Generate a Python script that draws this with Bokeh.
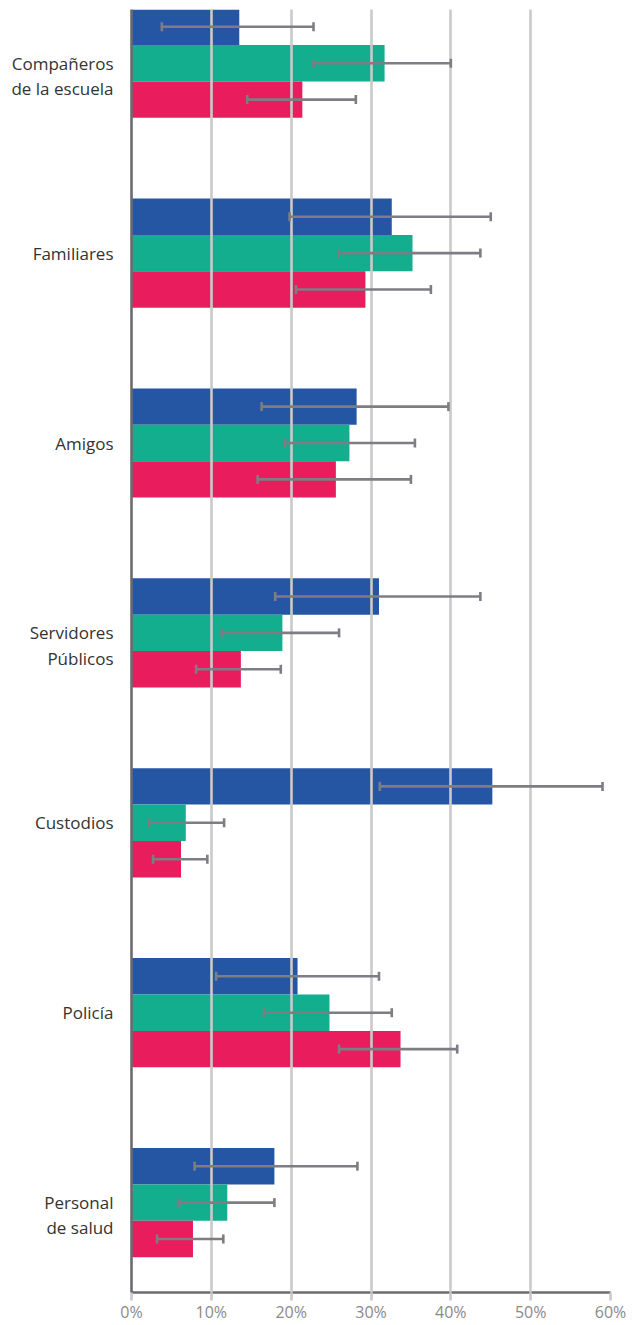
from bokeh.plotting import figure
from bokeh.models import (ColumnDataSource, Range1d, FixedTicker, Whisker, TeeHead)
from bokeh.embed import file_html
from bokeh.resources import INLINE

# ---------------- data ----------------
categories = ["Compañeros\nde la escuela", "Familiares", "Amigos",
              "Servidores\nPúblicos", "Custodios", "Policía", "Personal\nde salud"]

blue = [13.5, 32.6, 28.2, 31.0, 45.2, 20.8, 17.9]
blue_lo = [3.8, 19.8, 16.3, 18.0, 31.1, 10.6, 7.9]
blue_hi = [22.8, 45.0, 39.7, 43.7, 59.0, 31.0, 28.3]

green = [31.7, 35.2, 27.3, 18.9, 6.8, 24.8, 12.0]
green_lo = [22.8, 25.9, 19.2, 11.3, 2.2, 16.6, 6.0]
green_hi = [40.0, 43.7, 35.5, 26.0, 11.6, 32.6, 17.9]

pink = [21.4, 29.3, 25.6, 13.7, 6.2, 33.7, 7.7]
pink_lo = [14.5, 20.6, 15.8, 8.1, 2.7, 26.0, 3.2]
pink_hi = [28.1, 37.5, 35.0, 18.7, 9.5, 40.8, 11.5]

tick_values = [0, 10, 20, 30, 40, 50, 60]
tick_labels = ["0%", "10%", "20%", "30%", "40%", "50%", "60%"]

# ---------------- styles ----------------
BLUE = "#2456a4"
GREEN = "#12ae8e"
PINK = "#e91c5e"
ERR = "#7d7d83"
GRID = "#cacaca"
AXIS = "#6b6b6f"
FONT = "Open Sans"

BAR_H = 0.1917
offsets = [-BAR_H, 0.0, BAR_H]
HALF_LINE = 0.066   # half a label line, in category units (first line sits on the group centre)

p = figure(width=634, height=1325, output_backend="svg", toolbar_location=None,
           x_range=Range1d(0, 60), y_range=Range1d(start=6.4734, end=-0.2828),
           min_border_left=131, min_border_right=24, min_border_top=9,
           min_border_bottom=33)
p.outline_line_color = None
p.background_fill_color = "white"

series = [(blue, blue_lo, blue_hi, BLUE), (green, green_lo, green_hi, GREEN),
          (pink, pink_lo, pink_hi, PINK)]

for (vals, lo, hi, col), off in zip(series, offsets):
    ys = [i + off for i in range(len(categories))]
    src = ColumnDataSource(dict(y=ys, v=vals, lo=lo, hi=hi))
    p.hbar(y="y", left=0, right="v", height=BAR_H, source=src,
           fill_color=col, line_color=None)
    w = Whisker(source=src, base="y", lower="lo", upper="hi", dimension="width",
                line_color=ERR, line_width=2.6, level="annotation",
                lower_head=TeeHead(size=9, line_color=ERR, line_width=2.6),
                upper_head=TeeHead(size=9, line_color=ERR, line_width=2.6))
    p.add_layout(w)

# grid on top of bars
p.ygrid.visible = False
p.xgrid.ticker = FixedTicker(ticks=tick_values[1:])
p.xgrid.grid_line_color = GRID
p.xgrid.grid_line_width = 2.6
p.xgrid.level = "guide"

# x axis
xa = p.xaxis[0]
xa.ticker = FixedTicker(ticks=tick_values)
xa.major_label_overrides = {v: t for v, t in zip(tick_values, tick_labels)}
xa.axis_line_color = AXIS
xa.axis_line_width = 2.6
xa.major_tick_line_color = GRID
xa.major_tick_line_width = 2.6
xa.major_tick_in = 0
xa.major_tick_out = 8
xa.minor_tick_line_color = None
xa.major_label_standoff = 0
xa.major_label_text_font = FONT
xa.major_label_text_font_size = "16px"
xa.major_label_text_color = "#8a8a8a"

# y axis: category labels (multi-line labels placed so their first line is on the group centre)
label_ticks = [i + (c.count("\n")) * HALF_LINE for i, c in enumerate(categories)]
ya = p.yaxis[0]
ya.ticker = FixedTicker(ticks=label_ticks)
ya.major_label_overrides = {t: c for t, c in zip(label_ticks, categories)}
ya.axis_line_color = AXIS
ya.axis_line_width = 2.6
ya.major_tick_line_color = None
ya.major_tick_in = 0
ya.major_tick_out = 0
ya.minor_tick_line_color = None
ya.major_label_standoff = 18
ya.major_label_text_font = FONT
ya.major_label_text_font_size = "17px"
ya.major_label_text_color = "#333333"
ya.major_label_text_line_height = 1.1

open("out.html", "w").write(file_html(p, INLINE))
